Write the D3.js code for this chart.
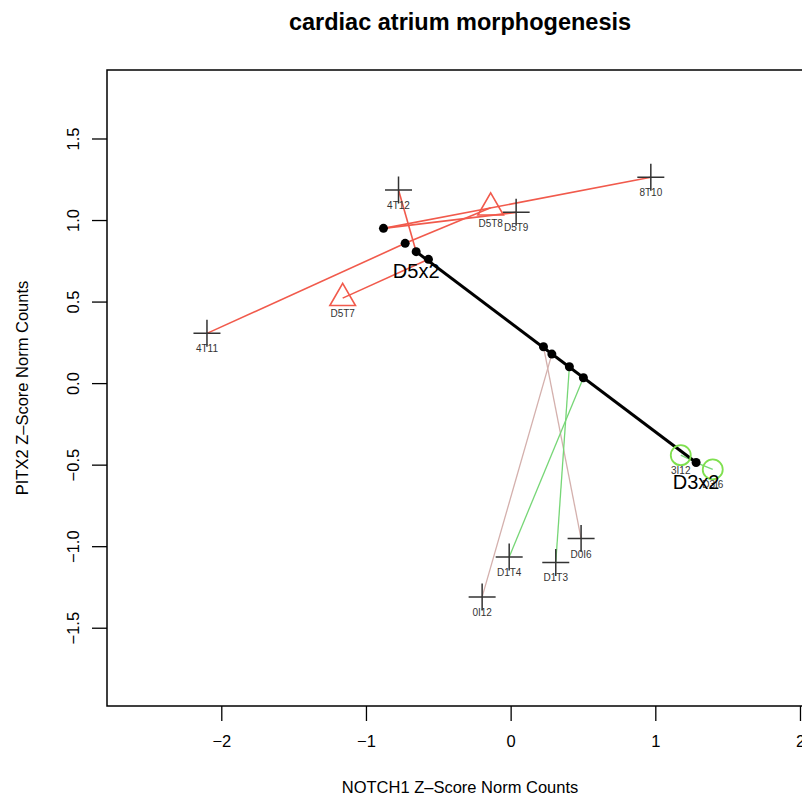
<!DOCTYPE html>
<html lang="en">
<head>
    <meta charset="UTF-8">
    <title>cardiac atrium morphogenesis</title>
    <script src="https://d3js.org/d3.v7.min.js"></script>
    <style>
        body { margin: 0; background: #fff; }
        svg { font-family: "Liberation Sans", Arial, Helvetica, sans-serif; }
        .tick text { font-size: 16.5px; fill: #000; }
        .tick line { stroke: #000; stroke-width: 1.3; }
        .lbl { font-size: 10px; fill: #333; }
        .big { font-size: 20px; fill: #000; }
    </style>
</head>
<body>
    <div id="chart"></div>
    <script>
        // samples (NOTCH1 vs PITX2 z-scores)
        const sampleNames = ["4T12", "4T11", "8T10", "D5T9", "D5T8", "D5T7",
                             "0I12", "D0I6", "D1T3", "D1T4", "3I12", "D3I6"];
        const sampleX = [-0.775, -2.099, 0.969, 0.038, -0.138, -1.161,
                         -0.197, 0.487, 0.312, -0.010, 1.176, 1.397];
        const sampleY = [1.184, 0.305, 1.262, 1.047, 1.076, 0.521,
                         -1.311, -0.953, -1.100, -1.066, -0.442, -0.529];
        const sampleMarker = ["cross", "cross", "cross", "cross", "triangle", "triangle",
                              "cross", "cross", "cross", "cross", "circle", "circle"];
        const sampleGroup = ["D5", "D5", "D5", "D5", "D5", "D5",
                             "D0", "D0", "D1", "D1", "D1", "D1"];
        // index of the curve point each sample is projected onto
        const sampleProj = [2, 1, 0, 0, 1, 3, 5, 4, 6, 7, 8, 8];

        // projected points on the trajectory
        const curveX = [-0.879, -0.729, -0.653, -0.568, 0.227, 0.285, 0.406, 0.503, 1.282];
        const curveY = [0.949, 0.857, 0.806, 0.759, 0.223, 0.178, 0.100, 0.033, -0.487];
        const curveStart = 2, curveEnd = 8;
        const curveLabels = ["D5x2", "D3x2"];

        const xTicks = [-2, -1, 0, 1, 2];
        const xTickLabels = ["\u22122", "\u22121", "0", "1", "2"];
        const yTicks = [-1.5, -1.0, -0.5, 0.0, 0.5, 1.0, 1.5];
        const yTickLabels = ["\u22121.5", "\u22121.0", "\u22120.5", "0.0", "0.5", "1.0", "1.5"];

        const lineColor = { D5: "#f15a4c", D1: "#76d676", D0: "#d4b0ad" };
        const markColor = { cross: "#333", triangle: "#f15a4c", circle: "#7fe04f" };

        const W = 802, H = 797;
        const box = { left: 107, top: 70, right: 813, bottom: 706 };

        const x = d3.scaleLinear().domain([-2.79, 2.09]).range([box.left, box.right]);
        const y = d3.scaleLinear().domain([-1.98, 1.92]).range([box.bottom, box.top]);

        const svg = d3.select("#chart").append("svg")
            .attr("width", W).attr("height", H);

        // title and axis titles
        svg.append("text")
           .attr("x", (box.left + box.right) / 2).attr("y", 30)
           .attr("text-anchor", "middle")
           .style("font-size", "23.5px").style("font-weight", "bold")
           .text("cardiac atrium morphogenesis");

        svg.append("text")
           .attr("x", (box.left + box.right) / 2).attr("y", 793)
           .attr("text-anchor", "middle")
           .style("font-size", "16.5px")
           .text("NOTCH1 Z\u2013Score Norm Counts");

        svg.append("text")
           .attr("transform", `translate(28,${(box.top + box.bottom) / 2}) rotate(-90)`)
           .attr("text-anchor", "middle")
           .style("font-size", "16.5px")
           .text("PITX2 Z\u2013Score Norm Counts");

        // axes
        const xAxis = svg.append("g")
           .attr("transform", `translate(0,${box.bottom})`)
           .call(d3.axisBottom(x).tickValues(xTicks)
                   .tickFormat((d, i) => xTickLabels[i])
                   .tickSize(15).tickPadding(14).tickSizeOuter(0));
        xAxis.select(".domain").remove();

        const yAxis = svg.append("g")
           .attr("transform", `translate(${box.left},0)`)
           .call(d3.axisLeft(y).tickValues(yTicks)
                   .tickFormat((d, i) => yTickLabels[i])
                   .tickSize(15).tickSizeOuter(0));
        yAxis.select(".domain").remove();
        yAxis.selectAll(".tick text")
             .attr("transform", "rotate(-90)")
             .attr("x", 0).attr("y", -28).attr("dy", 0)
             .attr("text-anchor", "middle");

        // plot box
        svg.append("rect")
           .attr("x", box.left).attr("y", box.top)
           .attr("width", box.right - box.left).attr("height", box.bottom - box.top)
           .attr("fill", "none").attr("stroke", "#000").attr("stroke-width", 1.5);

        const plot = svg.append("g");

        // segments from each sample to its projection
        plot.selectAll("line.proj")
            .data(sampleNames.map((n, i) => i))
            .join("line")
            .attr("class", "proj")
            .attr("x1", i => x(sampleX[i])).attr("y1", i => y(sampleY[i]))
            .attr("x2", i => x(curveX[sampleProj[i]])).attr("y2", i => y(curveY[sampleProj[i]]))
            .attr("stroke", i => lineColor[sampleGroup[i]])
            .attr("stroke-width", i => sampleGroup[i] === "D5" ? 1.6 : 1.3);

        // trajectory
        plot.append("line")
            .attr("x1", x(curveX[curveStart])).attr("y1", y(curveY[curveStart]))
            .attr("x2", x(curveX[curveEnd])).attr("y2", y(curveY[curveEnd]))
            .attr("stroke", "#000").attr("stroke-width", 3);

        plot.selectAll("circle.cp")
            .data(curveX.map((d, i) => i))
            .join("circle")
            .attr("class", "cp")
            .attr("cx", i => x(curveX[i])).attr("cy", i => y(curveY[i]))
            .attr("r", 4.5).attr("fill", "#000");

        // sample markers
        const R = 9.5;
        sampleNames.forEach((n, i) => {
            const cx = x(sampleX[i]), cy = y(sampleY[i]);
            const m = sampleMarker[i];
            if (m === "cross") {
                plot.append("path")
                    .attr("d", `M${cx - 13.5},${cy}H${cx + 13.5}M${cx},${cy - 13.5}V${cy + 13.5}`)
                    .attr("stroke", markColor.cross).attr("stroke-width", 1.5).attr("fill", "none");
            } else if (m === "triangle") {
                const r = 1.555 * R, xc = 1.347 * R, yc = 0.778 * R;
                plot.append("path")
                    .attr("d", `M${cx},${cy - r}L${cx + xc},${cy + yc}L${cx - xc},${cy + yc}Z`)
                    .attr("stroke", markColor.triangle).attr("stroke-width", 1.6).attr("fill", "none");
            } else {
                plot.append("circle")
                    .attr("cx", cx).attr("cy", cy).attr("r", 10)
                    .attr("stroke", markColor.circle).attr("stroke-width", 1.8).attr("fill", "none");
            }
            plot.append("text")
                .attr("class", "lbl")
                .attr("x", cx).attr("y", cy + 19)
                .attr("text-anchor", "middle")
                .text(n);
        });

        // trajectory end labels
        [curveStart, curveEnd].forEach((ci, k) => {
            plot.append("text")
                .attr("class", "big")
                .attr("x", x(curveX[ci])).attr("y", y(curveY[ci]) + 26)
                .attr("text-anchor", "middle")
                .text(curveLabels[k]);
        });
    </script>
</body>
</html>
